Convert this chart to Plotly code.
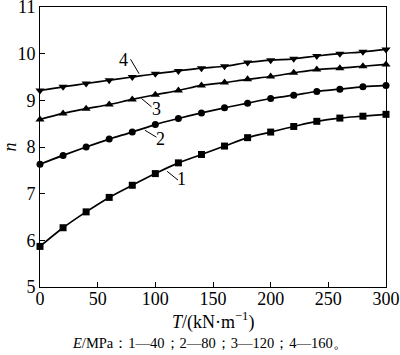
import plotly.graph_objects as go

T = [0, 20, 40, 60, 80, 100, 120, 140, 160, 180, 200, 220, 240, 260, 280, 300]
n1 = [5.87, 6.27, 6.61, 6.92, 7.18, 7.43, 7.66, 7.84, 8.02, 8.20, 8.32, 8.44, 8.55, 8.62, 8.66, 8.70]
n2 = [7.63, 7.82, 8.00, 8.17, 8.32, 8.48, 8.61, 8.73, 8.84, 8.94, 9.04, 9.11, 9.19, 9.24, 9.29, 9.32]
n3 = [8.59, 8.72, 8.82, 8.91, 9.02, 9.12, 9.21, 9.32, 9.38, 9.45, 9.51, 9.59, 9.66, 9.69, 9.73, 9.77]
n4 = [9.21, 9.29, 9.36, 9.43, 9.50, 9.57, 9.63, 9.69, 9.73, 9.81, 9.86, 9.89, 9.95, 10.00, 10.04, 10.09]

series = [n1, n2, n3, n4]
symbols = ["square", "circle", "triangle-up", "triangle-down"]
sizes = [7, 7, 8, 8]
labels = ["1", "2", "3", "4"]
# label text positions and leader lines (data coords)
label_pos = [(122.6, 7.32), (104.4, 8.18), (101.0, 8.82), (72.1, 9.86)]
leaders = [((110.2, 7.48), (119.7, 7.29)), ((90.9, 8.36), (101.0, 8.21)),
           ((88.0, 9.04), (96.7, 8.86)), ((78.5, 9.88), (85.9, 9.57))]

FONT = "Liberation Serif, Times New Roman, serif"

fig = go.Figure()
for ys, sym, sz in zip(series, symbols, sizes):
    fig.add_trace(go.Scatter(
        x=T, y=ys, mode="lines+markers",
        line=dict(color="black", width=1.7, shape="spline"),
        marker=dict(symbol=sym, size=sz, color="black"),
        showlegend=False, cliponaxis=False))

for lab, (lx, ly), ((x0, y0), (x1, y1)) in zip(labels, label_pos, leaders):
    fig.add_annotation(x=lx, y=ly, text=lab, showarrow=False,
                       font=dict(family=FONT, size=18, color="black"))
    fig.add_shape(type="line", x0=x0, y0=y0, x1=x1, y1=y1,
                  line=dict(color="black", width=1))

# x-axis title and caption
fig.add_annotation(xref="paper", yref="paper", x=0.5, y=-0.123, yanchor="middle",
                   text="<i>T</i>/(kN·m<sup>−1</sup>)", showarrow=False,
                   font=dict(family=FONT, size=18, color="black"))
fig.add_annotation(xref="paper", yref="paper", x=0.49, y=-0.201, yanchor="middle",
                   text="<i>E</i>/MPa：1—40；2—80；3—120；4—160。",
                   showarrow=False,
                   font=dict(family=FONT, size=14.5, color="black"))

axis_common = dict(showline=True, linecolor="black", linewidth=1, mirror=True,
                   ticks="inside", ticklen=5, tickcolor="black", showgrid=False,
                   zeroline=False, automargin=False, ticklabeloverflow="allow",
                   tickfont=dict(family=FONT, size=18, color="black"))

fig.update_xaxes(range=[0, 300], tickvals=[0, 50, 100, 150, 200, 250, 300],
                 ticklabelstandoff=-5, **axis_common)
fig.update_yaxes(range=[5, 11], tickvals=[5, 6, 7, 8, 9, 10, 11],
                 title=dict(text="<i>n</i>", standoff=2,
                            font=dict(family=FONT, size=18, color="black")),
                 **axis_common)

fig.update_layout(width=400, height=355,
                  font=dict(family=FONT, color="black"),
                  margin=dict(l=40, r=14, t=7, b=68),
                  plot_bgcolor="white", paper_bgcolor="white")

fig.write_html("out.html", config={"displayModeBar": False},
               post_script="document.body.style.margin='0';document.body.style.overflow='hidden';")
